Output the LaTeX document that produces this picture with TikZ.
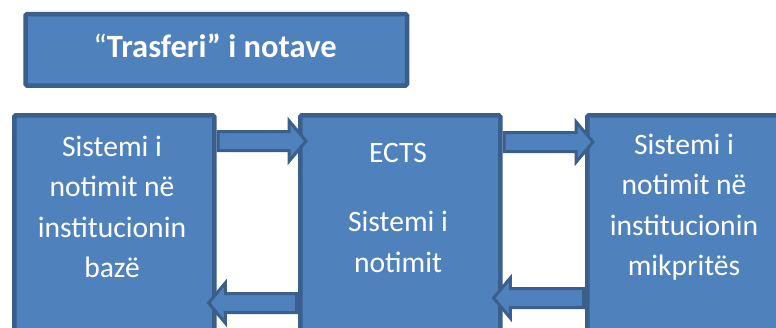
\documentclass[tikz,border=0pt]{standalone}
\usepackage{fontspec}
\setmainfont{Carlito}
\usetikzlibrary{shapes.arrows}
\definecolor{boxfill}{HTML}{4F81BD}
\definecolor{boxline}{HTML}{3A5F8C}
\tikzset{
  bigbox/.style={draw=boxline, fill=boxfill, line width=4.5pt, rectangle, rounded corners=1.5pt,
    minimum width=200pt, minimum height=260pt, anchor=north west, inner sep=0pt},
  txt/.style={text=white, align=center, font=\fontsize{29.6}{40.5}\selectfont, inner sep=0pt},
  barrow/.style={single arrow, draw=boxline, fill=boxfill, line width=3pt,
    inner xsep=0pt, inner ysep=8pt, text height=0pt, text depth=0pt, text width=0pt,
    single arrow head extend=10.5pt, single arrow tip angle=100, anchor=tail,
    minimum height=88pt}
}
\begin{document}
\begin{tikzpicture}[x=1pt,y=-1pt]
\useasboundingbox (0,0) rectangle (776,327);
% title
\node[draw=boxline, fill=boxfill, line width=4.5pt, rounded corners=1.5pt, inner sep=0pt,
  minimum width=381.5pt, minimum height=71.5pt] (T) at (216.25,49.75) {};
\node[text=white, inner sep=0pt, font=\fontsize{32.5}{38}\selectfont] (Tt) at (215,46) {“\textbf{Trasferi” i notave}};
% boxes
\node[bigbox] (L) at (12,113) {};
\node[bigbox] (M) at (298,113) {};
\node[bigbox] (R) at (585,113) {};
% texts
\node[txt] (Lt) at (112,207) {Sistemi i\\notimit në\\institucionin\\bazë};
\node[txt] (Me) at (398,153) {ECTS};
\node[txt] (Ms) at (398,242) {Sistemi i\\notimit};
\node[txt] (Rt) at (684,207) {Sistemi i\\notimit në\\institucionin\\mikpritës};
% arrows
\node[barrow] (a1) at (L.east |- 0,141) {};
\node[barrow, shape border rotate=180] (a2) at (M.west |- 0,303) {};
\node[barrow, minimum height=89pt] (a3) at (M.east |- 0,142) {};
\node[barrow, shape border rotate=180, minimum height=90pt] (a4) at (R.west |- 0,298) {};
\end{tikzpicture}
\end{document}
